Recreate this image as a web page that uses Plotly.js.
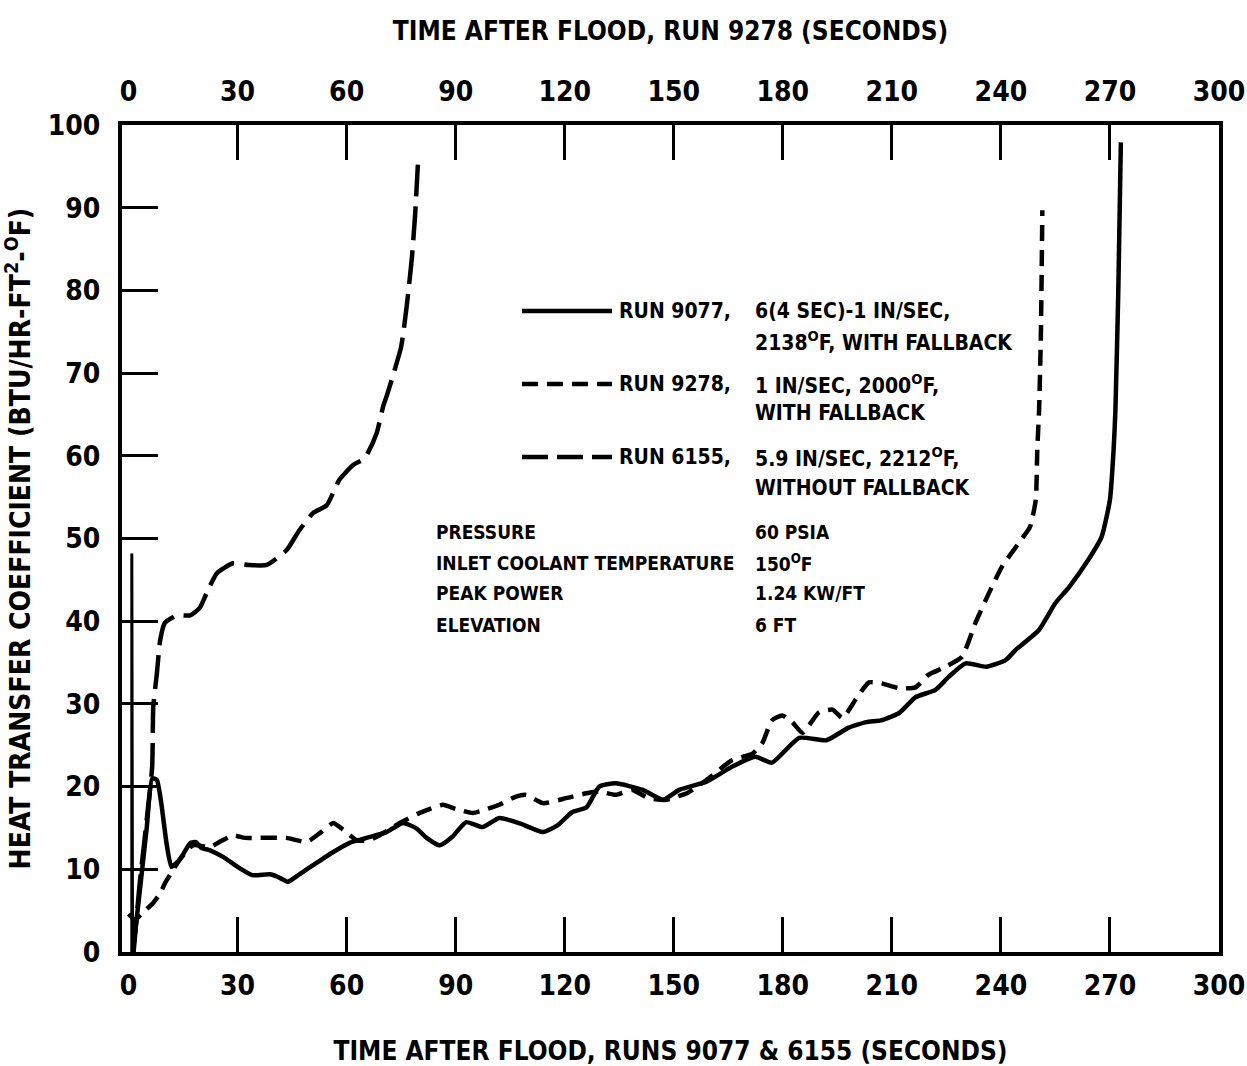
<!DOCTYPE html>
<html>
<head>
<meta charset="utf-8">
<script src="https://cdn.plot.ly/plotly-3.0.1.min.js"></script>
<style>html,body{margin:0;padding:0;background:#fff;}#chart{width:1247px;height:1066px;}</style>
</head>
<body>
<div id="chart"></div>
<script>
// ---- data (time in seconds, heat transfer coefficient in BTU/HR-FT2-F) ----
const run9077SpikeT = [0.9, 0.9, 1.1];
const run9077SpikeH = [0, 48.2, 0];

const run9077T = [1.2, 3, 5, 6.5, 7.8, 9, 10.5, 11.8, 13.5, 15, 17, 18.5, 20, 22.4, 26, 30, 34, 38.9, 41, 43.8, 47, 51.8, 56, 60.8, 65.5, 71, 75.5, 79, 82, 85.6, 89, 92.9, 97.4, 102, 108, 114, 118, 122, 126, 129.5, 134, 141.5, 147, 151.5, 159, 166, 172.5, 177, 184.5, 192, 198, 203, 207, 212, 216.5, 222, 225.7, 230.3, 236, 241.3, 244, 250.4, 255, 258.7, 264, 267.7, 270, 271, 271.5, 272.3, 273];
const run9077H = [0, 7, 15, 21, 20.8, 18, 13, 10.3, 10.9, 11.8, 13.2, 13.3, 12.6, 12.3, 11.5, 10.3, 9.3, 9.4, 9.1, 8.5, 9.4, 10.8, 12, 13.2, 13.8, 14.5, 15.6, 15, 13.8, 12.9, 13.9, 15.7, 15.1, 16.2, 15.5, 14.5, 15.3, 16.9, 17.5, 20, 20.4, 19.6, 18.4, 19.6, 20.6, 22.4, 23.6, 22.9, 25.9, 25.6, 27.1, 27.8, 28, 28.9, 30.8, 31.7, 33.3, 34.9, 34.5, 35.3, 36.5, 38.9, 42.2, 44.1, 47.4, 50.2, 54.7, 60.7, 65.5, 80, 97.9];

const run9278T = [0, 1.8, 4, 6.7, 8.7, 10, 11.8, 14, 17.7, 22.4, 25, 28.7, 32, 36, 43.5, 49, 53, 56.3, 59, 62.8, 66, 69, 74.6, 80, 86.5, 90, 94.7, 98, 102, 106.6, 109.4, 114, 120.4, 126, 129.5, 134, 138.6, 143, 147.9, 154, 159, 166, 171.7, 174.4, 177, 179.8, 182.6, 185.4, 190, 193.7, 196.4, 200, 203.7, 207, 212, 216.5, 220, 224.8, 229.3, 233, 236.7, 240.3, 245, 248, 249.6, 250, 250.5, 251, 251.4];
const run9278H = [4.6, 3.9, 4.8, 5.9, 7.1, 8.3, 9.6, 11.1, 12.9, 12.7, 13.3, 14.1, 13.8, 13.8, 13.8, 13.3, 14.5, 15.6, 14.8, 13.5, 13.5, 14.1, 15.6, 16.8, 17.8, 17.3, 16.8, 17.2, 17.8, 18.8, 19, 18, 18.6, 19.2, 19.4, 19, 19.6, 18.6, 18.4, 19.3, 20.8, 23.2, 24, 25.3, 28, 28.6, 27.8, 26.5, 29, 29.3, 28.3, 30.5, 32.6, 32.5, 31.9, 32, 33.5, 34.5, 35.7, 39.8, 43.4, 46.6, 49.5, 51.4, 54.7, 60.7, 65.5, 74.8, 89.7];

const run6155T = [1.4, 3, 5, 6.5, 6.8, 7.8, 8.7, 10, 13.3, 17, 19.6, 21.5, 24.3, 28.7, 33, 38, 43.5, 47, 50.8, 54.5, 58, 61.8, 65, 68.3, 70, 71.3, 75, 76.5, 77.9, 78.8, 79.6];
const run6155H = [0, 8, 16, 22.4, 29.6, 33.7, 37.7, 39.8, 40.7, 40.7, 41.6, 43.4, 45.8, 47, 46.8, 46.8, 48.6, 51, 53.1, 54, 57.1, 58.9, 59.7, 62.8, 65.9, 67.6, 73.2, 78, 83.7, 88.9, 95.2];

const xTickVals = [0, 30, 60, 90, 120, 150, 180, 210, 240, 270, 300];
const xInnerTicks = [30, 60, 90, 120, 150, 180, 210, 240, 270];
const yTickVals = [0, 10, 20, 30, 40, 50, 60, 70, 80, 90, 100];

const legendRuns = ['RUN 9077,', 'RUN 9278,', 'RUN 6155,'];
const legendDesc = [
  ['6(4 SEC)-1 IN/SEC,', '2138<sup>O</sup>F, WITH FALLBACK'],
  ['1 IN/SEC, 2000<sup>O</sup>F,', 'WITH FALLBACK'],
  ['5.9 IN/SEC, 2212<sup>O</sup>F,', 'WITHOUT FALLBACK']
];
const condLabels = ['PRESSURE', 'INLET COOLANT TEMPERATURE', 'PEAK POWER', 'ELEVATION'];
const condValues = ['60 PSIA', '150<sup>O</sup>F', '1.24 KW/FT', '6 FT'];

// ---- styling ----
const FONT = 'DejaVu Sans Condensed, Liberation Sans Narrow, DejaVu Sans, sans-serif';
const XR = [-1.8, 300];
const L = 122, R = 1219, T = 125, B = 952, W = 1247, H = 1066;
const px = v => (v - L) / (R - L);
const py = v => (B - v) / (B - T);

const lineSolid = {color: '#000', width: 4.5, dash: 'solid', shape: 'spline', smoothing: 0.5};
const lineDash = {color: '#000', width: 4.5, dash: '16px,9px', shape: 'spline', smoothing: 0.5};
const lineLong = {color: '#000', width: 4.5, dash: '34px,10px', shape: 'spline', smoothing: 0.5};

const traces = [
  {x: run9077SpikeT, y: run9077SpikeH, mode: 'lines', line: {color: '#000', width: 3}, xaxis: 'x', yaxis: 'y', hoverinfo: 'skip'},
  {x: run9077T, y: run9077H, mode: 'lines', line: lineSolid, xaxis: 'x', yaxis: 'y', name: 'RUN 9077'},
  {x: run9278T, y: run9278H, mode: 'lines', line: lineDash, xaxis: 'x2', yaxis: 'y', name: 'RUN 9278'},
  {x: run6155T, y: run6155H, mode: 'lines', line: lineLong, xaxis: 'x', yaxis: 'y', name: 'RUN 6155'},
  {x: [], y: [], xaxis: 'x3', yaxis: 'y', mode: 'lines'},
  {x: [], y: [], xaxis: 'x4', yaxis: 'y', mode: 'lines'}
];

const tickFont = {family: FONT, size: 28, color: '#000', weight: 'bold'};
const titleFont = {family: FONT, size: 26, color: '#000', weight: 'bold'};
const yTitleFont = {family: FONT, size: 28, color: '#000', weight: 'bold'};
const annFont = {family: FONT, size: 21, color: '#000', weight: 'bold'};
const condFont = {family: FONT, size: 19, color: '#000', weight: 'bold'};

const shapes = [];
const annotations = [];
const legendY = [311, 384, 457];
const legendY2 = [341, 413, 488];
const dashes = ['solid', '16px,9px', '26px,9px'];
for (let i = 0; i < 3; i++) {
  shapes.push({type: 'line', xref: 'paper', yref: 'paper', x0: px(522), x1: px(612), y0: py(legendY[i]), y1: py(legendY[i]), line: {color: '#000', width: 4.5, dash: dashes[i]}});
  annotations.push({xref: 'paper', yref: 'paper', x: px(617), y: py(legendY[i]), xanchor: 'left', yanchor: 'middle', showarrow: false, text: legendRuns[i], font: annFont});
  annotations.push({xref: 'paper', yref: 'paper', x: px(753), y: py(legendY[i]), xanchor: 'left', yanchor: 'middle', showarrow: false, text: legendDesc[i][0], font: annFont});
  annotations.push({xref: 'paper', yref: 'paper', x: px(753), y: py(legendY2[i]), xanchor: 'left', yanchor: 'middle', showarrow: false, text: legendDesc[i][1], font: annFont});
}
const condY = [532, 563, 593, 625];
for (let i = 0; i < 4; i++) {
  annotations.push({xref: 'paper', yref: 'paper', x: px(434), y: py(condY[i]), xanchor: 'left', yanchor: 'middle', showarrow: false, text: condLabels[i], font: condFont});
  annotations.push({xref: 'paper', yref: 'paper', x: px(753), y: py(condY[i]), xanchor: 'left', yanchor: 'middle', showarrow: false, text: condValues[i], font: condFont});
}

const baseX = {range: XR, showgrid: false, zeroline: false, fixedrange: true};
const layout = {
  width: W, height: H,
  margin: {l: L, r: W - R, t: T, b: H - B, pad: 0},
  paper_bgcolor: '#fff', plot_bgcolor: '#fff',
  showlegend: false,
  xaxis: Object.assign({}, baseX, {
    side: 'bottom', anchor: 'y', tickmode: 'array', tickvals: xTickVals, ticks: '',
    showline: true, linewidth: 4, linecolor: '#000', tickfont: tickFont, ticklabelstandoff: 5,
    title: {text: 'TIME AFTER FLOOD, RUNS 9077 & 6155 (SECONDS)', font: titleFont, standoff: 45}
  }),
  xaxis2: Object.assign({}, baseX, {
    side: 'top', overlaying: 'x', anchor: 'y', tickmode: 'array', tickvals: xTickVals, ticks: '',
    showline: true, linewidth: 4, linecolor: '#000', tickfont: tickFont, ticklabelstandoff: 9,
    title: {text: 'TIME AFTER FLOOD, RUN 9278 (SECONDS)', font: titleFont, standoff: 28}
  }),
  xaxis3: Object.assign({}, baseX, {
    side: 'bottom', overlaying: 'x', anchor: 'y', tickmode: 'array', tickvals: xInnerTicks, ticks: 'inside',
    ticklen: 35, tickwidth: 3, tickcolor: '#000', showticklabels: false, showline: false
  }),
  xaxis4: Object.assign({}, baseX, {
    side: 'top', overlaying: 'x', anchor: 'y', tickmode: 'array', tickvals: xInnerTicks, ticks: 'inside',
    ticklen: 35, tickwidth: 3, tickcolor: '#000', showticklabels: false, showline: false
  }),
  yaxis: {
    range: [0, 100], tickmode: 'array', tickvals: yTickVals, ticks: 'inside', ticklen: 36, tickwidth: 3, tickcolor: '#000',
    showline: true, mirror: true, linewidth: 4, linecolor: '#000', showgrid: false, zeroline: false, fixedrange: true,
    tickfont: tickFont, ticklabelstandoff: 12,
    title: {text: 'HEAT TRANSFER COEFFICIENT (BTU/HR-FT<sup>2</sup>-<sup>O</sup>F)', font: yTitleFont, standoff: 14}
  },
  shapes: shapes,
  annotations: annotations
};

Plotly.newPlot('chart', traces, layout, {staticPlot: true, displayModeBar: false});
</script>
</body>
</html>
